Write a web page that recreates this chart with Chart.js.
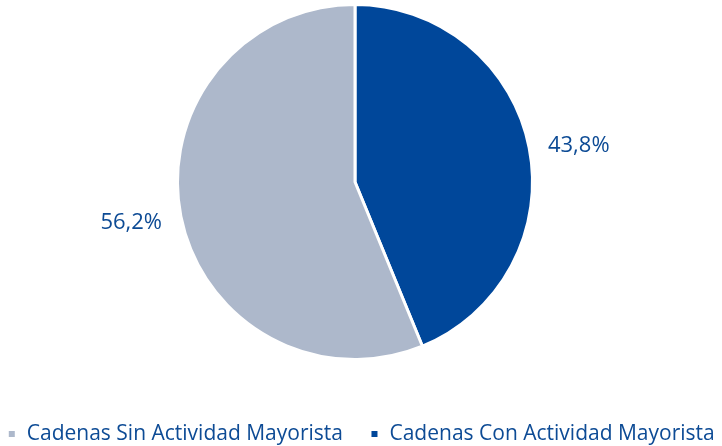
<!DOCTYPE html>
<html>
<head>
<meta charset="utf-8">
<script src="https://cdn.jsdelivr.net/npm/chart.js@4"></script>
<style>
  html, body { margin: 0; padding: 0; background: #ffffff; }
  #wrap { width: 722px; height: 446px; position: relative; }
</style>
</head>
<body>
<div id="wrap"><canvas id="pieChart"></canvas></div>
<script>
// data
const categories = ['Cadenas Con Actividad Mayorista', 'Cadenas Sin Actividad Mayorista'];
const shares = [43.8, 56.2];
const sliceColors = ['#00479a', '#adb8cb'];
const textColor = '#0d4b95';
const fontFamily = '"Open Sans", "Noto Sans", sans-serif';
const legendFont = 21;

// percent labels outside the slices (small nudge per label to sit like the original)
const labelNudge = [8, -3];
const outsideLabels = {
    id: 'outsideLabels',
    afterDatasetsDraw(chart) {
        const ctx = chart.ctx;
        const meta = chart.getDatasetMeta(0);
        ctx.save();
        ctx.font = '500 22px ' + fontFamily;
        ctx.fillStyle = textColor;
        ctx.textAlign = 'center';
        ctx.textBaseline = 'middle';
        meta.data.forEach((arc, i) => {
            const p = arc.getProps(['x', 'y', 'startAngle', 'endAngle', 'outerRadius'], true);
            const mid = (p.startAngle + p.endAngle) / 2;
            const r = p.outerRadius * 1.285;
            const txt = shares[i].toFixed(1).replace('.', ',') + '%';
            ctx.fillText(txt, p.x + Math.cos(mid) * r, p.y + Math.sin(mid) * r + labelNudge[i]);
        });
        ctx.restore();
    }
};

// keep the legend on one row with a fixed block height, then move it to the bottom edge
const legendPlace = {
    id: 'legendPlace',
    beforeUpdate(chart) {
        const lg = chart.legend;
        if (lg && !lg._wrapped) {
            const origFit = lg.fit;
            lg.fit = function () {
                const mw = this.maxWidth;
                this.maxWidth = 2000;
                origFit.call(this);
                this.maxWidth = mw;
                this.width = mw;
                this.height = 83;
            };
            lg._wrapped = true;
        }
    },
    afterLayout(chart) {
        const lg = chart.legend;
        lg.top = 434 - 27 - legendFont / 2;
        lg.bottom = lg.top + 83;
        lg.left = -30;
        lg.right = chart.width + 30;
    }
};

const ctx = document.getElementById('pieChart').getContext('2d');
new Chart(ctx, {
    type: 'pie',
    data: {
        labels: categories,
        datasets: [{
            data: shares,
            backgroundColor: sliceColors,
            borderColor: '#ffffff',
            borderWidth: 3
        }]
    },
    options: {
        responsive: true,
        maintainAspectRatio: false,
        animation: false,
        layout: {
            padding: { top: 3, bottom: 2, left: 0, right: 12 }
        },
        plugins: {
            tooltip: { enabled: false },
            legend: {
                position: 'bottom',
                reverse: true,
                labels: {
                    usePointStyle: true,
                    pointStyle: 'rect',
                    boxWidth: 9,
                    boxHeight: 9,
                    padding: 27,
                    color: textColor,
                    font: { family: fontFamily, size: legendFont, weight: '500' }
                }
            }
        }
    },
    plugins: [outsideLabels, legendPlace]
});
</script>
</body>
</html>
